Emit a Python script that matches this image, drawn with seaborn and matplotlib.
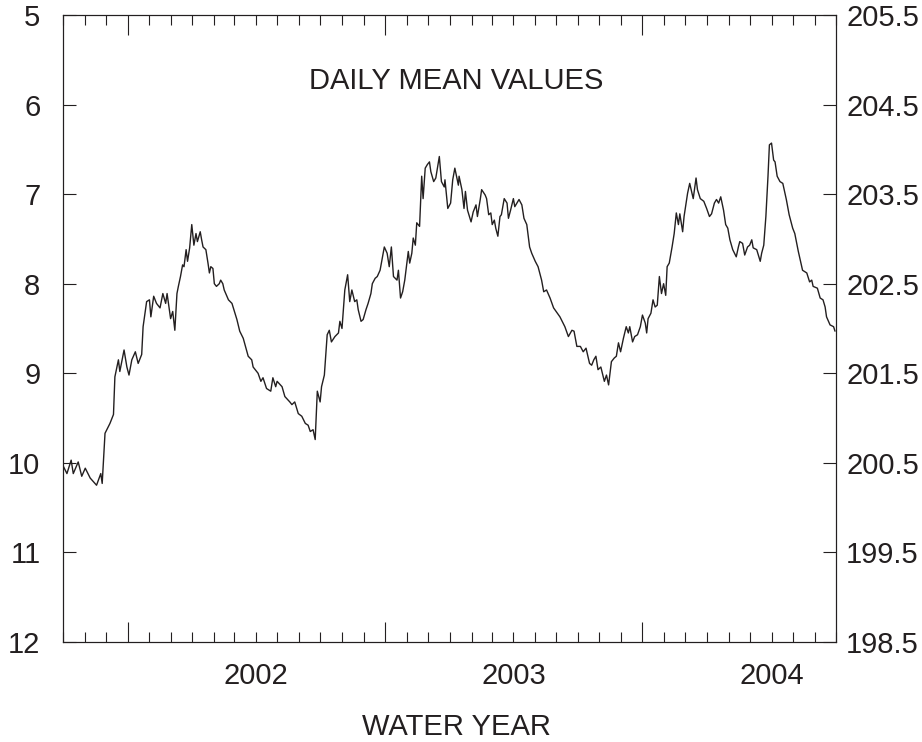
import numpy as np
import pandas as pd
import matplotlib
matplotlib.use("Agg")
import matplotlib.pyplot as plt
import matplotlib.dates as mdates
import matplotlib.transforms as mtrans
import seaborn as sns

# ---- data ----
start_date = "2001-07-01"
end_date = "2004-07-01"
day_offset = [1, 6, 12, 15, 22, 27, 32, 39, 48, 54, 56, 60, 67, 72, 74, 79, 81, 87, 91, 94,
              98, 103, 107, 112, 114, 119, 123, 125, 129, 133, 138, 142, 146, 148, 153, 156, 159, 162, 164, 167,
              170, 172, 175, 177, 180, 183, 186, 189, 191, 195, 197, 199, 203, 206, 208, 210, 213, 215, 218, 222,
              224, 227, 229, 235, 240, 247, 251, 256, 263, 268, 270, 277, 281, 284, 289, 295, 298, 302, 304, 311,
              315, 322, 325, 329, 334, 339, 344, 348, 351, 355, 358, 361, 365, 367, 371, 375, 378, 381, 386, 391,
              393, 396, 400, 404, 407, 410, 414, 417, 419, 423, 426, 430, 433, 437, 439, 443, 446, 450, 456, 460,
              463, 466, 469, 474, 476, 479, 482, 485, 490, 492, 495, 497, 500, 502, 506, 509, 511, 514, 517, 520,
              522, 526, 529, 534, 537, 541, 542, 546, 550, 553, 556, 561, 562, 566, 569, 571, 574, 579, 582, 586,
              588, 592, 594, 599, 601, 604, 607, 609, 612, 614, 617, 620, 622, 626, 630, 632, 635, 639, 641, 647,
              651, 654, 658, 662, 665, 670, 674, 679, 682, 686, 691, 696, 705, 712, 717, 722, 725, 729, 734, 738,
              742, 747, 750, 753, 756, 759, 763, 768, 771, 774, 778, 782, 785, 788, 791, 795, 799, 802, 804, 808,
              811, 815, 819, 822, 826, 828, 830, 834, 837, 840, 843, 846, 849, 852, 855, 857, 860, 864, 867, 870,
              873, 875, 879, 881, 886, 889, 891, 894, 898, 900, 904, 909, 913, 917, 920, 924, 927, 930, 933, 937,
              940, 943, 946, 950, 955, 958, 960, 964, 967, 971, 974, 977, 979, 984, 989, 991, 994, 997, 1000, 1002,
              1005, 1008, 1010, 1013, 1017, 1021, 1026, 1030, 1035, 1038, 1043, 1049, 1055, 1059, 1062, 1064, 1070, 1074,
              1078, 1081, 1083, 1088, 1093, 1095]
depth_ft = [10.04, 10.12, 9.97, 10.12, 9.99, 10.15, 10.06, 10.17, 10.25, 10.12, 10.23, 9.67, 9.56, 9.46, 9.04, 8.85, 8.98, 8.74, 8.93, 9.02,
            8.85, 8.76, 8.89, 8.79, 8.48, 8.20, 8.18, 8.37, 8.14, 8.22, 8.27, 8.11, 8.22, 8.11, 8.39, 8.31, 8.52, 8.11, 8.03, 7.92,
            7.79, 7.81, 7.62, 7.75, 7.60, 7.34, 7.57, 7.44, 7.53, 7.42, 7.51, 7.59, 7.62, 7.77, 7.88, 7.81, 7.83, 8.00, 8.03, 8.00,
            7.96, 8.00, 8.07, 8.18, 8.22, 8.40, 8.53, 8.61, 8.81, 8.85, 8.93, 9.00, 9.09, 9.05, 9.17, 9.20, 9.05, 9.15, 9.09, 9.15,
            9.26, 9.32, 9.35, 9.32, 9.45, 9.48, 9.56, 9.58, 9.65, 9.63, 9.74, 9.20, 9.32, 9.15, 9.02, 8.57, 8.52, 8.65, 8.59, 8.55,
            8.42, 8.50, 8.07, 7.90, 8.20, 8.07, 8.20, 8.18, 8.29, 8.42, 8.40, 8.29, 8.22, 8.11, 8.00, 7.94, 7.92, 7.85, 7.59, 7.66,
            7.81, 7.59, 7.92, 7.96, 7.85, 8.16, 8.09, 7.96, 7.64, 7.77, 7.66, 7.49, 7.57, 7.32, 7.36, 6.80, 7.05, 6.71, 6.67, 6.64,
            6.75, 6.86, 6.82, 6.58, 6.86, 6.92, 6.84, 7.16, 7.10, 6.84, 6.71, 6.90, 6.80, 6.95, 7.16, 6.97, 7.18, 7.31, 7.20, 7.12,
            7.25, 7.06, 6.95, 7.01, 7.05, 7.23, 7.21, 7.34, 7.29, 7.38, 7.47, 7.25, 7.23, 7.05, 7.10, 7.27, 7.18, 7.05, 7.14, 7.06,
            7.12, 7.27, 7.34, 7.59, 7.66, 7.75, 7.81, 7.96, 8.09, 8.07, 8.16, 8.27, 8.37, 8.48, 8.59, 8.52, 8.53, 8.70, 8.70, 8.76,
            8.72, 8.89, 8.91, 8.85, 8.81, 8.96, 8.93, 9.09, 9.02, 9.13, 8.87, 8.83, 8.81, 8.66, 8.76, 8.61, 8.48, 8.55, 8.48, 8.65,
            8.59, 8.57, 8.48, 8.35, 8.44, 8.55, 8.39, 8.33, 8.18, 8.26, 8.24, 7.92, 8.11, 8.00, 8.13, 7.81, 7.77, 7.59, 7.44, 7.21,
            7.34, 7.22, 7.42, 7.25, 6.99, 6.88, 6.95, 7.05, 6.82, 6.95, 7.05, 7.08, 7.16, 7.25, 7.22, 7.10, 7.06, 7.10, 7.03, 7.18,
            7.34, 7.38, 7.51, 7.62, 7.70, 7.59, 7.53, 7.55, 7.68, 7.59, 7.57, 7.51, 7.60, 7.62, 7.75, 7.66, 7.57, 7.25, 6.80, 6.45,
            6.43, 6.62, 6.64, 6.80, 6.86, 6.88, 7.06, 7.23, 7.38, 7.44, 7.64, 7.85, 7.88, 7.98, 7.96, 8.03, 8.05, 8.16,
            8.18, 8.26, 8.37, 8.46, 8.48, 8.53]

left_ticks = [5, 6, 7, 8, 9, 10, 11, 12]
right_ticks = [198.5, 199.5, 200.5, 201.5, 202.5, 203.5, 204.5, 205.5]
year_labels = ["2002", "2003", "2004"]
panel_text = "DAILY MEAN VALUES"
x_title = "WATER YEAR"

assert len(day_offset) == len(depth_ft)

df = pd.DataFrame({
    "date": pd.Timestamp(start_date) + pd.to_timedelta(day_offset, unit="D"),
    "depth": depth_ft,
})

# ---- style ----
sns.set_style("ticks")
plt.rcParams["font.family"] = ["Liberation Sans", "DejaVu Sans"]
ink = "#231f20"
fs = 21

fig = plt.figure(figsize=(9.22, 7.42), dpi=100)
ax = fig.add_axes([0.068, 0.1348, 0.8384, 0.845])

sns.lineplot(data=df, x="date", y="depth", ax=ax, color=ink, linewidth=1.0,
             estimator=None, sort=True)

ax.set_xlim(pd.Timestamp(start_date), pd.Timestamp(end_date))
ax.set_ylim(max(left_ticks), min(left_ticks))
ax.set_yticks(left_ticks)
ax.set_yticklabels([str(t) for t in left_ticks])
ax.set_xlabel("")
ax.set_ylabel("")

ax.xaxis.set_major_locator(mdates.MonthLocator(bymonth=10))
ax.xaxis.set_minor_locator(mdates.MonthLocator())
ax.tick_params(axis="x", which="both", direction="in", top=True, bottom=True,
               labelbottom=False, color=ink, width=0.8)
ax.tick_params(axis="x", which="major", length=14.4)
ax.tick_params(axis="x", which="minor", length=7.2)
ax.tick_params(axis="y", which="major", direction="in", length=9.4, width=0.8,
               labelsize=fs, pad=16, colors=ink)
ax.tick_params(axis="y", which="minor", left=False, right=False)

for s in ax.spines.values():
    s.set_color(ink)
    s.set_linewidth(0.8)
    s.set_visible(True)

ax2 = ax.twinx()
ax2.set_ylim(min(right_ticks), max(right_ticks))
ax2.set_yticks(right_ticks)
ax2.set_yticklabels([f"{t:.1f}" for t in right_ticks])
ax2.tick_params(axis="y", which="major", direction="in", length=9.4, width=0.8,
                labelsize=fs, pad=7.5, colors=ink)
ax2.tick_params(axis="y", which="minor", right=False, left=False)
for s in ax2.spines.values():
    s.set_color(ink)
    s.set_linewidth(0.8)

# year labels centred on each water year
trans = mtrans.blended_transform_factory(ax.transData, ax.transAxes)
for yl in year_labels:
    wy_start = pd.Timestamp(f"{int(yl) - 1}-10-01")
    wy_end = pd.Timestamp(f"{yl}-10-01")
    mid = wy_start + (wy_end - wy_start) / 2
    ax.text(mdates.date2num(mid), -0.054, yl, transform=trans, ha="center",
            va="center", fontsize=fs, color=ink)

ax.text(0.509, -0.1356, x_title, transform=ax.transAxes, ha="center", va="center",
        fontsize=fs, color=ink)
ax.text(0.509, 0.894, panel_text, transform=ax.transAxes, ha="center", va="center",
        fontsize=fs, color=ink)

fig.savefig("out.png", dpi=100)
